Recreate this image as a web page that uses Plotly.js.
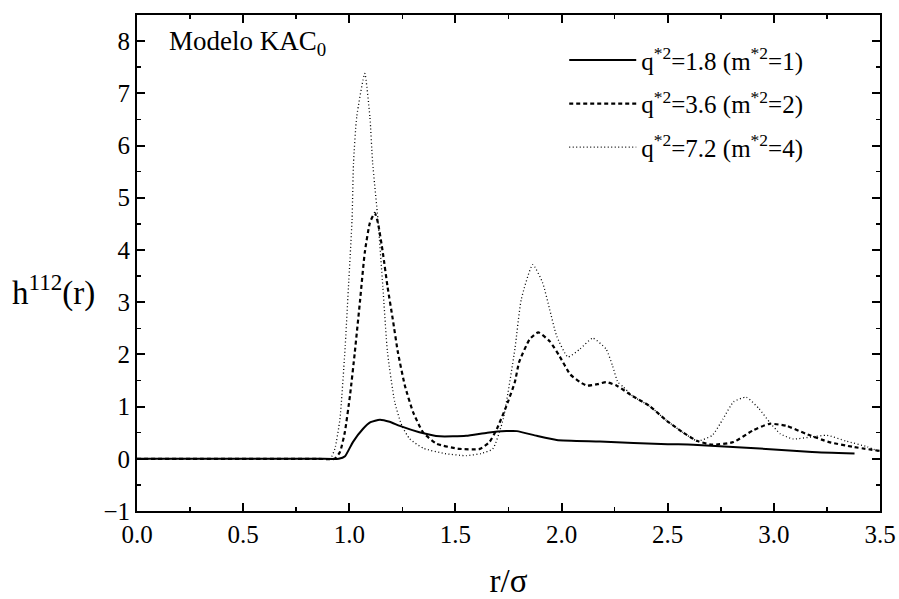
<!DOCTYPE html>
<html>
<head>
<meta charset="utf-8">
<script src="https://cdn.plot.ly/plotly-3.0.1.min.js"></script>
<style>html,body{margin:0;padding:0;background:#fff;}#chart{width:899px;height:599px;}</style>
</head>
<body>
<div id="chart"></div>
<script>
// r/sigma values and h112(r) for each charge set
const seriesNames = ["q<sup>*2</sup>=1.8 (m<sup>*2</sup>=1)", "q<sup>*2</sup>=3.6 (m<sup>*2</sup>=2)", "q<sup>*2</sup>=7.2 (m<sup>*2</sup>=4)"];

const rSolid = [0, 0.3, 0.6, 0.85, 0.95, 0.98, 1.017, 1.064, 1.10, 1.144, 1.19, 1.238, 1.33, 1.427, 1.55, 1.65, 1.74, 1.79, 1.883, 1.977, 2.18, 2.5, 2.62, 2.87, 3.0, 3.18, 3.38];
const hSolid = [0, 0, 0, 0, 0, 0.05, 0.32, 0.57, 0.70, 0.75, 0.71, 0.63, 0.51, 0.43, 0.44, 0.50, 0.53, 0.53, 0.44, 0.36, 0.33, 0.28, 0.27, 0.21, 0.18, 0.13, 0.10];

const rDash = [0, 0.3, 0.6, 0.85, 0.93, 0.956, 0.979, 1.003, 1.026, 1.05, 1.073, 1.097, 1.12, 1.135, 1.158, 1.18, 1.205, 1.229, 1.262, 1.30, 1.347, 1.41, 1.52, 1.615, 1.66, 1.695, 1.74, 1.78, 1.80, 1.85, 1.89, 1.944, 1.99, 2.04, 2.086, 2.12, 2.17, 2.21, 2.26, 2.335, 2.415, 2.495, 2.57, 2.64, 2.71, 2.81, 2.90, 2.98, 3.06, 3.15, 3.26, 3.37, 3.5];
const hDash = [0, 0, 0, 0, 0, 0.13, 0.51, 1.2, 2.04, 3.0, 3.95, 4.52, 4.71, 4.52, 3.95, 3.3, 2.67, 2.04, 1.4, 0.9, 0.51, 0.29, 0.19, 0.19, 0.32, 0.57, 1.01, 1.47, 1.85, 2.29, 2.42, 2.25, 1.97, 1.62, 1.47, 1.4, 1.43, 1.47, 1.4, 1.2, 1.01, 0.73, 0.51, 0.34, 0.27, 0.32, 0.54, 0.67, 0.63, 0.48, 0.32, 0.23, 0.15];

const rDot = [0, 0.3, 0.6, 0.85, 0.91, 0.932, 0.956, 0.979, 0.998, 1.013, 1.02, 1.035, 1.073, 1.097, 1.11, 1.135, 1.158, 1.18, 1.214, 1.248, 1.285, 1.35, 1.45, 1.55, 1.62, 1.676, 1.725, 1.78, 1.81, 1.864, 1.91, 1.944, 1.977, 2.03, 2.086, 2.147, 2.21, 2.24, 2.265, 2.29, 2.335, 2.415, 2.495, 2.57, 2.64, 2.71, 2.76, 2.81, 2.87, 2.93, 2.98, 3.03, 3.09, 3.18, 3.25, 3.34, 3.44, 3.5];
const hDot = [0, 0, 0, 0, 0, 0.19, 0.76, 2.04, 3.43, 4.58, 5.67, 6.55, 7.38, 6.55, 5.67, 4.58, 3.3, 2.04, 1.09, 0.63, 0.38, 0.2, 0.1, 0.06, 0.1, 0.19, 0.76, 2.1, 3.05, 3.72, 3.38, 2.86, 2.35, 1.95, 2.1, 2.31, 2.1, 1.78, 1.47, 1.38, 1.2, 1.01, 0.73, 0.51, 0.34, 0.45, 0.76, 1.09, 1.18, 0.96, 0.7, 0.48, 0.38, 0.42, 0.45, 0.34, 0.23, 0.13];

const serif = "Liberation Serif";

const traces = [
  {x: rSolid, y: hSolid, name: seriesNames[0], legendgroup: "a", mode: "lines",
   line: {color: "#000", width: 2, shape: "spline", smoothing: 0.5}},
  {x: rDash, y: hDash, name: seriesNames[1], legendgroup: "b", mode: "lines",
   line: {color: "#000", width: 2.2, dash: "4px,3px", shape: "spline", smoothing: 0.5}},
  {x: rDot, y: hDot, name: seriesNames[2], legendgroup: "c", mode: "lines",
   line: {color: "#000", width: 1.3, dash: "1px,2.5px", shape: "spline", smoothing: 0.5}}
];

const axisCommon = {
  showline: true, linecolor: "#000", linewidth: 2, mirror: "ticks",
  ticks: "inside", ticklen: 8, tickwidth: 2, tickcolor: "#000",
  showgrid: false, zeroline: false,
  tickfont: {family: serif, size: 25, color: "#000"}
};

const layout = {
  width: 899, height: 599,
  margin: {l: 137, r: 19, t: 15, b: 88},
  paper_bgcolor: "#fff", plot_bgcolor: "#fff",
  font: {family: serif, color: "#000"},
  showlegend: true,
  legend: {x: 0.575, y: 0.955, xanchor: "left", yanchor: "top", itemwidth: 67,
           font: {family: serif, size: 25, color: "#000"},
           bgcolor: "rgba(0,0,0,0)", tracegroupgap: 8},
  xaxis: Object.assign({}, axisCommon, {
    range: [0, 3.5], dtick: 0.5, tick0: 0, tickformat: ".1f",
    minor: {dtick: 0.25, ticks: "inside", ticklen: 4, tickwidth: 1.5, tickcolor: "#000"},
    title: {text: "r/σ", font: {family: serif, size: 33, color: "#000"}, standoff: 22}
  }),
  yaxis: Object.assign({}, axisCommon, {
    range: [-1, 8.5], dtick: 1, tick0: 0,
    minor: {dtick: 0.5, ticks: "inside", ticklen: 4, tickwidth: 1.5, tickcolor: "#000"}
  }),
  annotations: [
    {text: "h<sup>112</sup>(r)", xref: "paper", yref: "paper", x: -0.171, y: 0.445,
     xanchor: "left", yanchor: "middle", showarrow: false,
     font: {family: serif, size: 33, color: "#000"}},
    {text: "Modelo KAC<sub>0</sub>", xref: "paper", yref: "paper", x: 0.04, y: 0.944,
     xanchor: "left", yanchor: "middle", showarrow: false,
     font: {family: serif, size: 27, color: "#000"}}
  ]
};

Plotly.newPlot("chart", traces, layout, {displayModeBar: false, staticPlot: true});
</script>
</body>
</html>
